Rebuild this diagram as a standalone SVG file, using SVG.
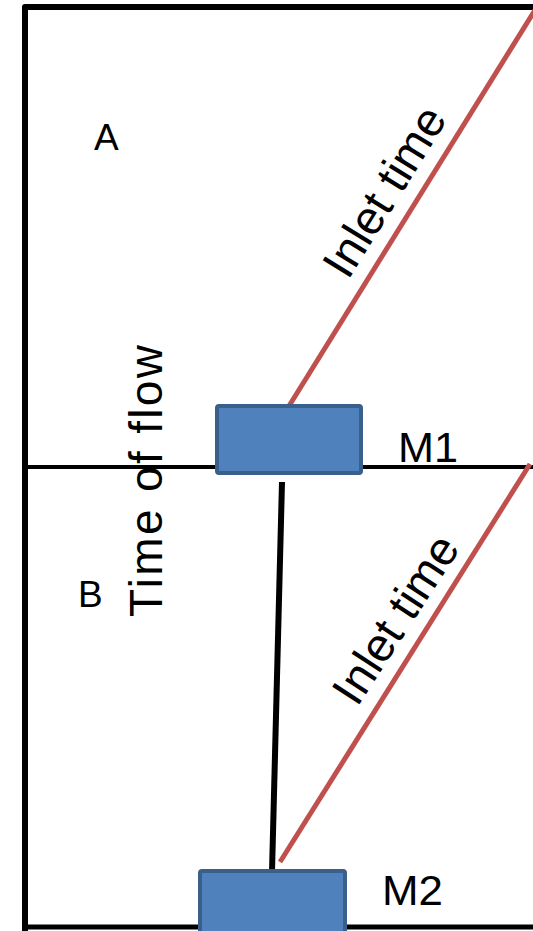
<svg xmlns="http://www.w3.org/2000/svg" width="533" height="931" viewBox="0 0 533 931">
<style>
.lbl{font-family:"Liberation Sans",Arial,sans-serif;fill:#000}
.frame{fill:none;stroke:#000;stroke-linejoin:round}
.box{fill:#4F81BD;stroke:#3A5F8B;stroke-width:4}
.inlet{stroke:#C0504D;stroke-width:5;fill:none}
</style>
<rect width="533" height="931" fill="#fff"/>
<g id="labels">
<text class="lbl" x="94" y="150" font-size="37">A</text>
<text class="lbl" x="78" y="607" font-size="37">B</text>
<text class="lbl" transform="translate(162,617) rotate(-90)" font-size="46" textLength="272" lengthAdjust="spacing">Time of  flow</text>
</g>
<g id="connectors">
<path class="frame" stroke-width="6" d="M25,931 V7 H533"/>
<line x1="25" y1="467" x2="533" y2="467" stroke="#000" stroke-width="4"/>
<line x1="22" y1="927" x2="533" y2="927" stroke="#000" stroke-width="5"/>
<line class="inlet" x1="289" y1="406" x2="535" y2="10"/>
<line class="inlet" x1="280" y1="862" x2="530" y2="464"/>
<line x1="282" y1="482" x2="272" y2="872" stroke="#000" stroke-width="6"/>
</g>
<g id="inlet1">
<text class="lbl" font-size="47" text-anchor="middle" transform="translate(398,200) rotate(-58.3)">Inlet time</text>
</g>
<g id="inlet2">
<text class="lbl" font-size="47" text-anchor="middle" transform="translate(409,628) rotate(-57)">Inlet time</text>
</g>
<g id="M1">
<rect class="box" x="217" y="406" width="144" height="67" rx="2"/>
<text class="lbl" x="398" y="462" font-size="42" textLength="60" lengthAdjust="spacingAndGlyphs">M1</text>
</g>
<g id="M2">
<rect class="box" x="200" y="871" width="145" height="80" rx="2"/>
<text class="lbl" x="382" y="905" font-size="42" textLength="61" lengthAdjust="spacingAndGlyphs">M2</text>
</g>
</svg>
